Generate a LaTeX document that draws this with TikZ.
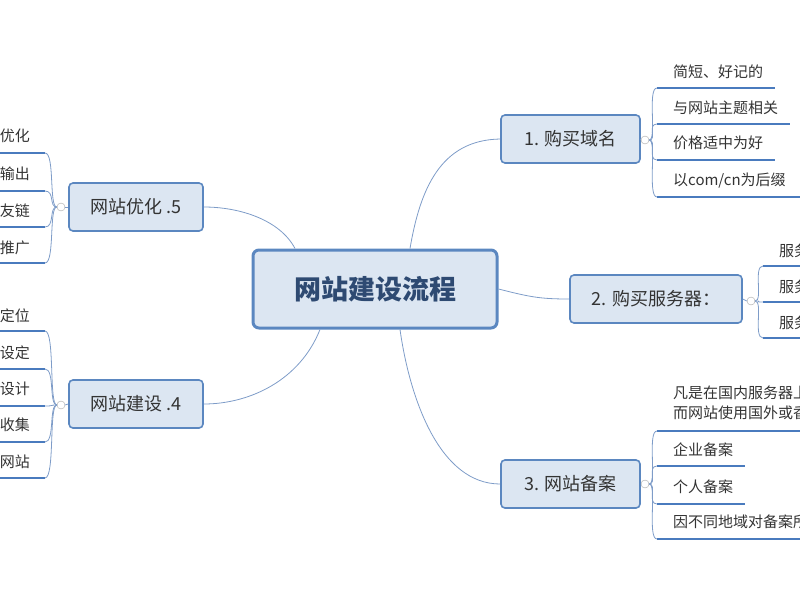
\documentclass[tikz,border=0pt]{standalone}
\usepackage{fontspec}
\setmainfont{Noto Sans CJK SC}
\definecolor{bord}{HTML}{5B87C0}
\definecolor{fillb}{HTML}{DCE6F2}
\definecolor{ln}{HTML}{7E9CC8}
\definecolor{ul}{HTML}{4A7BBE}
\definecolor{txt}{HTML}{333333}
\definecolor{ctxt}{HTML}{2E4A72}
\begin{document}
\begin{tikzpicture}[x=1pt,y=-1pt,
  topic/.style={draw=bord, fill=fillb, line width=1.6pt, rounded corners=4pt, minimum height=48pt, font=\fontsize{18}{21}\selectfont, text=txt},
  ctr/.style={draw=bord, fill=fillb, line width=3pt, rounded corners=6pt, minimum width=244pt, minimum height=78pt, font=\fontsize{27}{30}\selectfont\bfseries, text=ctxt},
  knob/.style={circle, draw=gray!70, fill=white, inner sep=0pt, minimum size=8pt},
  conn/.style={draw=ln, line width=0.8pt},
  kid/.style={inner sep=1pt, font=\fontsize{15}{18}\selectfont, text=txt, align=left},
  und/.style={draw=ul, line width=2.4pt},
]
\useasboundingbox (0,0) rectangle (800,600);
\begin{scope}
\clip (0,0) rectangle (800,600);
% centre
\node[ctr] (c) at (375,289) {网站建设流程};
% topics
\node[topic, minimum width=139pt] (t1) at (570.5,139) {1. 购买域名};
\node[topic, minimum width=172pt] (t2) at (656,299) {2. 购买服务器：};
\node[topic, minimum width=139pt] (t3) at (570.5,484) {3. 网站备案};
\node[topic, minimum width=134pt] (t5) at (136,207) {网站优化 .5};
\node[topic, minimum width=134pt] (t4) at (136,404) {网站建设 .4};
\node[knob] (k1) at (645,140) {};
\node[knob] (k2) at (751,301) {};
\node[knob] (k3) at (645,484) {};
\node[knob] (k5) at (61,207) {};
\node[knob] (k4) at (61,405) {};
% centre connectors
\draw[conn] (c.north) ++(35,0) .. controls (420,190) and (440,140) .. (t1.west);
\draw[conn] (c.east) .. controls (530,297) and (540,299) .. (t2.west);
\draw[conn] (c.south) ++(25,0) .. controls (410,400) and (440,484) .. (t3.west);
\draw[conn] (c.north) ++(-80,0) .. controls (280,220) and (240,207) .. (t5.east);
\draw[conn] (c.south) ++(-55,0) .. controls (300,380) and (250,404) .. (t4.east);
\foreach \k/\t in {k1/t1,k2/t2,k3/t3}{\draw[conn] (\t.east) -- (\k.west);}
\foreach \k/\t in {k5/t5,k4/t4}{\draw[conn] (\t.west) -- (\k.east);}
% right children
\foreach \n/\y/\e/\u/\s in {
  a11/72/775/88/{简短、好记的},
  a12/108/790/124/{与网站主题相关},
  a13/143/775/160/{价格适中为好},
  a14/181/805/197/{以com/cn为后缀},
  a32/450/745/466/{企业备案},
  a33/487/745/504/{个人备案},
  a34/522/805/539/{因不同地域对备案所需}}{
  \node[kid, anchor=west] (\n) at (672,\y) {\s};
  \coordinate (\n u) at (657,\u);
  \draw[und] (\n u) -- (\e,\u);
}
\node[kid, anchor=west, font=\fontsize{15}{20}\selectfont] (a31) at (672,403) {凡是在国内服务器上\\而网站使用国外或香港};
\coordinate (a31u) at (657,431);
\draw[und] (a31u) -- (805,431);
\foreach \n/\y/\u in {a21/251/266,a22/287/302,a23/323/338}{
  \node[kid, anchor=west] (\n) at (778,\y) {服务器};
  \coordinate (\n u) at (763,\u);
  \draw[und] (\n u) -- (805,\u);
}
% left children
\foreach \n/\y/\u/\s in {a51/136/153/优化,a52/174/191/输出,a53/211/227/友链,a54/248/263/推广,
  a41/316/331/定位,a42/353/369/设定,a43/389/406/设计,a44/425/442/收集,a45/462/478/网站}{
  \node[kid, anchor=east] (\n) at (31,\y) {\s};
  \coordinate (\n u) at (45,\u);
  \draw[und] (-5,\u) -- (\n u);
}
% child connectors
\foreach \k/\n in {k1/a11,k1/a12,k1/a13,k1/a14,k2/a21,k2/a22,k2/a23,k3/a31,k3/a32,k3/a33,k3/a34}{
  \draw[conn] (\k.east) .. controls +(8,0) and +(-10,0) .. (\n u);}
\foreach \k/\n in {k5/a51,k5/a52,k5/a53,k5/a54,k4/a41,k4/a42,k4/a43,k4/a44,k4/a45}{
  \draw[conn] (\k.west) .. controls +(-8,0) and +(10,0) .. (\n u);}
\end{scope}
\end{tikzpicture}
\end{document}
